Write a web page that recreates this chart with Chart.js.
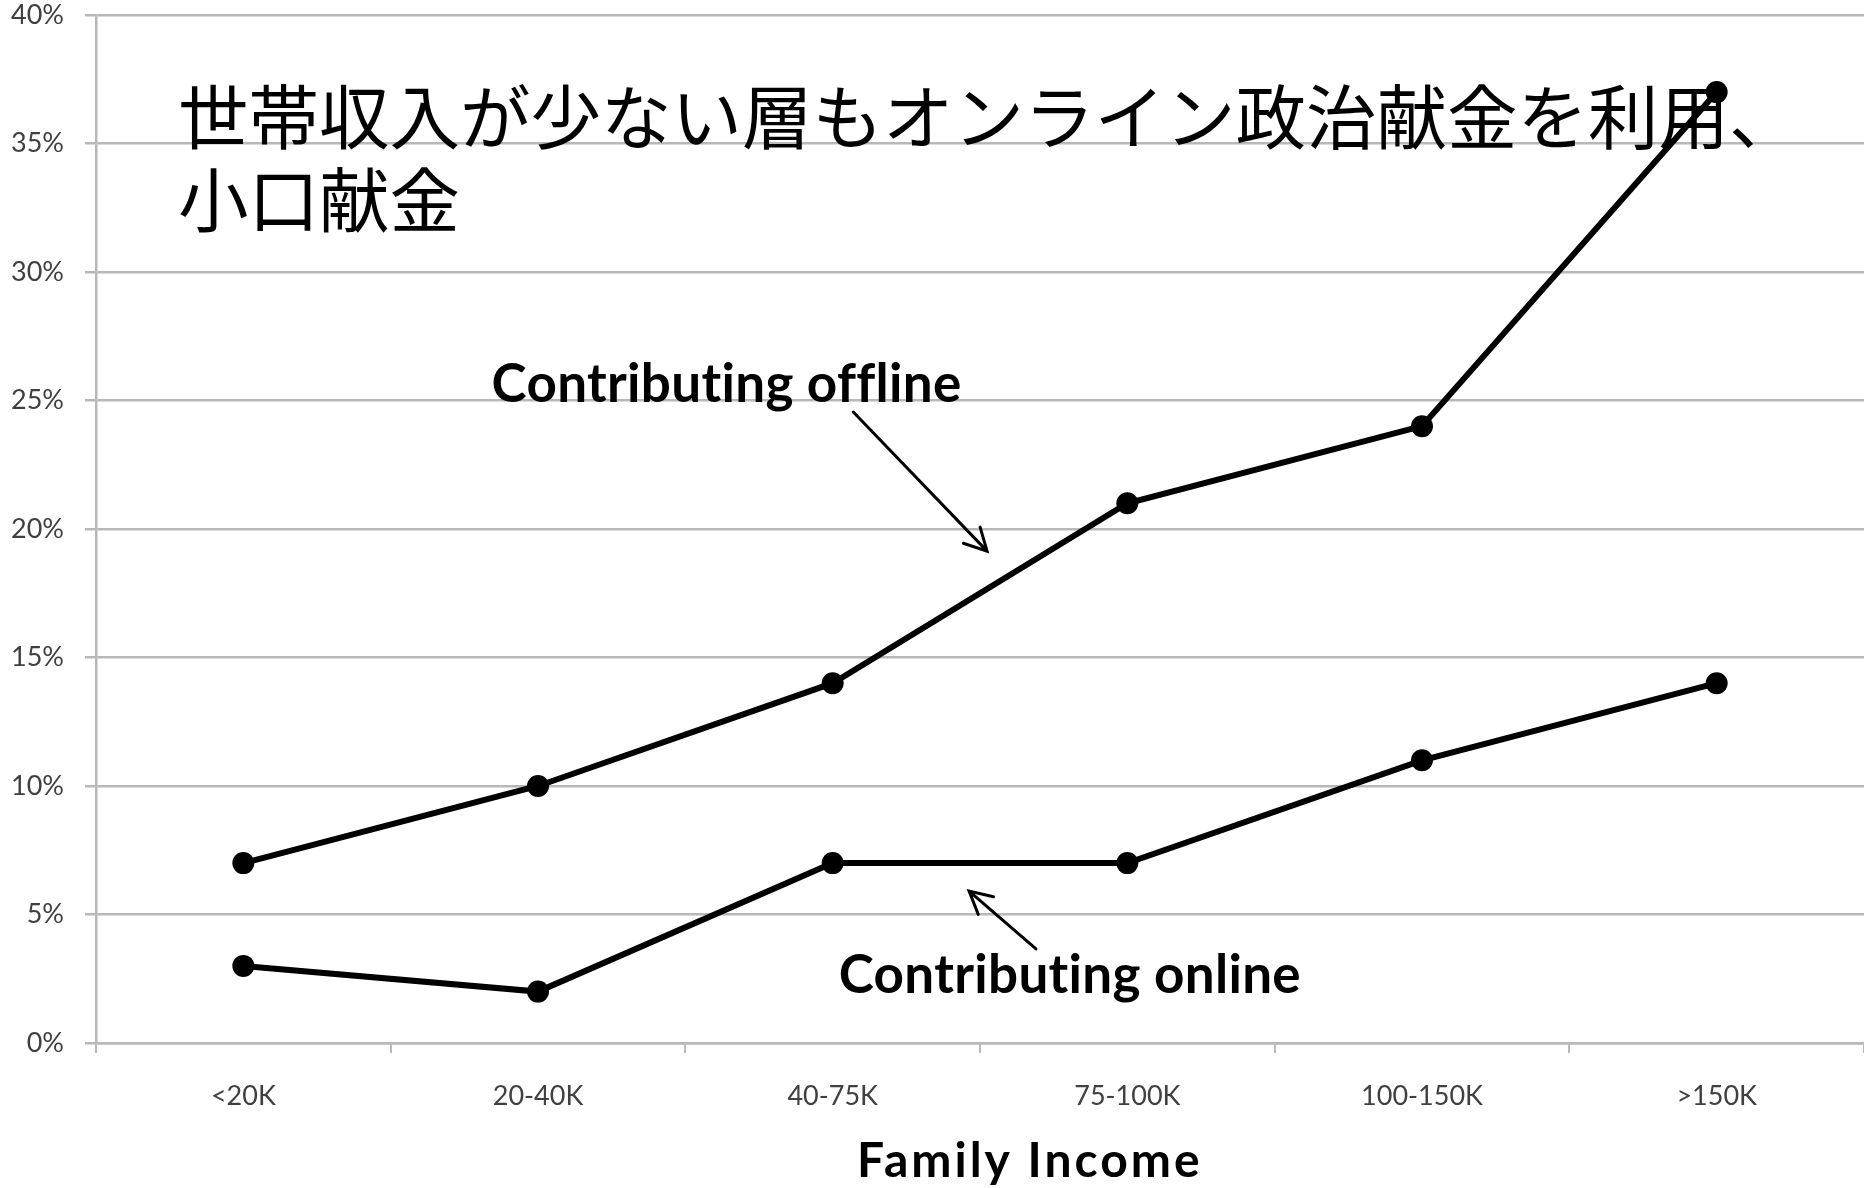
<!DOCTYPE html>
<html>
<head>
<meta charset="utf-8">
<script src="https://cdn.jsdelivr.net/npm/chart.js@4/dist/chart.umd.min.js"></script>
<style>
  html, body { margin: 0; padding: 0; background: #ffffff; }
  #c { display: block; }
</style>
</head>
<body>
<canvas id="c" width="1864" height="1188"></canvas>
<script>
// ---- data ----
const categories = ['<20K', '20-40K', '40-75K', '75-100K', '100-150K', '>150K'];
const offlineValues = [7, 10, 14, 21, 24, 37];
const onlineValues = [3, 2, 7, 7, 11, 14];
const yTickValues = [0, 5, 10, 15, 20, 25, 30, 35, 40];
const titleLines = ['世帯収入が少ない層もオンライン政治献金を利用、', '小口献金'];
const xAxisTitle = 'Family Income';
const offlineLabel = 'Contributing offline';
const onlineLabel = 'Contributing online';

// annotation anchors in data units (category index, percent)
const offlineText = { x: 1.64, y: 24.95 };
const offlineArrow = { from: { x: 2.07, y: 24.55 }, to: { x: 2.524, y: 19.14 } };
const onlineText = { x: 2.805, y: 1.95 };
const onlineArrow = { from: { x: 2.69, y: 3.66 }, to: { x: 2.463, y: 5.91 } };

const GRID = '#b8b8b8';
const TICK_TEXT = '#404040';

function drawArrow(ctx, x1, y1, x2, y2) {
  const ang = Math.atan2(y2 - y1, x2 - x1);
  const len = 25, spread = Math.PI / 6.5;
  ctx.beginPath();
  ctx.moveTo(x1, y1);
  ctx.lineTo(x2, y2);
  ctx.moveTo(x2 - len * Math.cos(ang - spread), y2 - len * Math.sin(ang - spread));
  ctx.lineTo(x2, y2);
  ctx.lineTo(x2 - len * Math.cos(ang + spread), y2 - len * Math.sin(ang + spread));
  ctx.stroke();
}

const annotationPlugin = {
  id: 'annotations',
  afterDraw(chart) {
    const ctx = chart.ctx;
    const xs = chart.scales.x, ys = chart.scales.y;
    const px = v => xs.getPixelForValue(v);
    const py = v => ys.getPixelForValue(v);
    ctx.save();
    // Japanese title
    ctx.fillStyle = '#000000';
    ctx.font = '70.5px "Noto Sans CJK JP"';
    ctx.textAlign = 'left';
    ctx.textBaseline = 'middle';
    ctx.fillText(titleLines[0], 178, 117);
    ctx.fillText(titleLines[1], 178, 200);

    // series labels
    ctx.font = 'bold 53px Lato';
    ctx.letterSpacing = '0.3px';
    ctx.textAlign = 'center';
    ctx.textBaseline = 'alphabetic';
    ctx.fillText(offlineLabel, px(offlineText.x), py(offlineText.y));
    ctx.fillText(onlineLabel, px(onlineText.x), py(onlineText.y));

    // arrows
    ctx.letterSpacing = '0px';
    ctx.strokeStyle = '#000000';
    ctx.lineWidth = 3;
    ctx.lineCap = 'round';
    drawArrow(ctx, px(offlineArrow.from.x), py(offlineArrow.from.y), px(offlineArrow.to.x), py(offlineArrow.to.y));
    drawArrow(ctx, px(onlineArrow.from.x), py(onlineArrow.from.y), px(onlineArrow.to.x), py(onlineArrow.to.y));

    // x axis title
    ctx.font = 'bold 48px Lato';
    ctx.letterSpacing = '3px';
    ctx.textAlign = 'center';
    ctx.textBaseline = 'alphabetic';
    ctx.fillText(xAxisTitle, px(2.669), 1177);
    ctx.restore();
  }
};

new Chart(document.getElementById('c'), {
  type: 'line',
  data: {
    labels: categories,
    datasets: [
      {
        label: offlineLabel,
        data: offlineValues,
        borderColor: '#000000',
        backgroundColor: '#000000',
        borderWidth: 6,
        pointRadius: 11,
        pointBackgroundColor: '#000000',
        pointBorderWidth: 0,
        tension: 0
      },
      {
        label: onlineLabel,
        data: onlineValues,
        borderColor: '#000000',
        backgroundColor: '#000000',
        borderWidth: 6,
        pointRadius: 11,
        pointBackgroundColor: '#000000',
        pointBorderWidth: 0,
        tension: 0
      }
    ]
  },
  options: {
    responsive: false,
    animation: false,
    devicePixelRatio: 1,
    layout: { autoPadding: false, padding: { top: 15, right: 0, bottom: 0, left: 0 } },
    plugins: {
      legend: { display: false },
      tooltip: { enabled: false },
      title: { display: false }
    },
    scales: {
      x: {
        type: 'category',
        offset: true,
        grid: {
          offset: true,
          drawOnChartArea: false,
          drawTicks: true,
          tickLength: 10,
          color: GRID,
          lineWidth: 2
        },
        border: { display: true, color: GRID, width: 2.5 },
        ticks: {
          color: TICK_TEXT,
          font: { family: 'Lato', size: 27 },
          padding: 27,
          maxRotation: 0,
          autoSkip: false
        },
        afterFit(scale) {
          scale.height = 145;
          scale.paddingLeft = 0;
          scale.paddingRight = 0;
        }
      },
      y: {
        min: 0,
        max: 40,
        afterBuildTicks(scale) { scale.ticks = yTickValues.map(v => ({ value: v })); },
        grid: {
          color: GRID,
          lineWidth: 2.5,
          tickLength: 11,
          drawTicks: true
        },
        border: { display: true, color: GRID, width: 2.5 },
        ticks: {
          color: TICK_TEXT,
          font: { family: 'Lato', size: 27 },
          padding: 21,
          callback: v => v + '%'
        },
        afterFit(scale) {
          scale.width = 96;
          scale.paddingTop = 0;
          scale.paddingBottom = 0;
        }
      }
    }
  },
  plugins: [annotationPlugin]
});
</script>
</body>
</html>
